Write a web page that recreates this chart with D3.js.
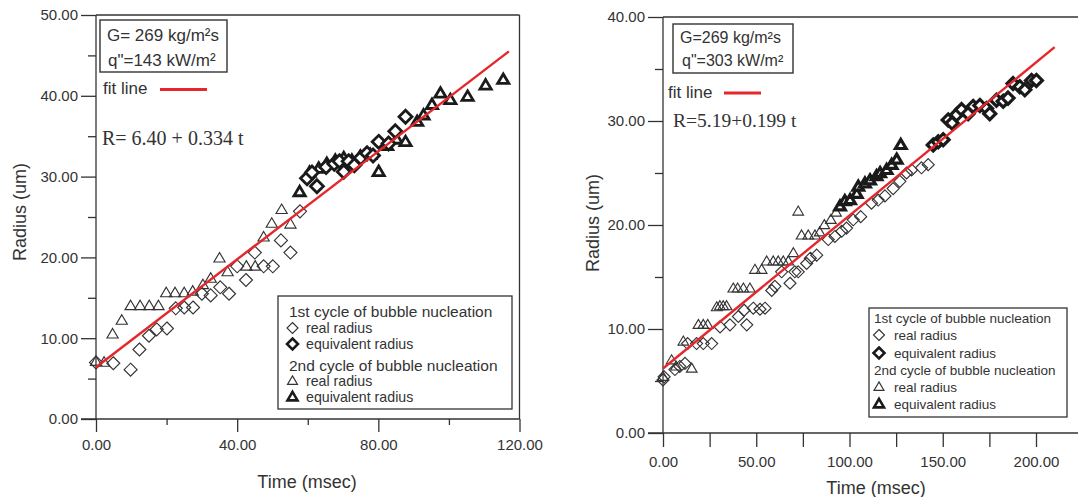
<!DOCTYPE html>
<html>
<head>
<meta charset="utf-8">
<script src="https://cdn.jsdelivr.net/npm/d3@7/dist/d3.min.js"></script>
<style>
  body { margin: 0; background: #fff; }
  svg text { font-family: "Liberation Sans", Arial, sans-serif; fill: #333; }
</style>
</head>
<body>
<svg id="chart" width="1078" height="497"></svg>
<script>
// ---- left panel: G=269 kg/m2s, q"=143 kW/m2  ([time msec, radius um]) ----
const leftReal1 = [[0,7.0],[4.9,6.9],[9.8,6.1],[12.3,8.6],[15.0,10.3],[17.2,11.1],[20.1,11.2],[22.6,13.7],
  [25.0,13.8],[27.5,13.8],[30.0,15.5],[32.5,15.3],[35.2,16.3],[37.7,15.5],[40.0,18.9],[42.5,17.2],
  [45.0,20.6],[47.5,18.9],[50.1,18.9],[52.4,22.1],[55.1,20.6],[57.8,25.7]]
const leftEq1 = [[59.8,29.8],[61.2,30.5],[62.6,28.8],[65.2,31.2],[67.5,31.6],[69.0,31.9],[70.2,30.6],
  [71.6,31.9],[73.2,31.4],[75.0,32.3],[76.8,32.9],[78.5,32.6],[80.1,34.3],[82.9,34.1],[84.8,35.6],[87.7,37.4]]
const leftReal2 = [[0,7.1],[2.3,7.0],[4.7,10.5],[7.3,12.2],[9.8,14.0],[12.5,14.0],[15.1,14.0],[17.7,14.0],
  [19.9,15.6],[22.4,15.6],[25.0,15.6],[27.4,15.8],[30.3,16.6],[32.5,17.4],[35.0,19.9],[37.3,18.2],
  [42.6,18.9],[45.1,18.9],[47.5,22.5],[49.8,24.2],[52.6,25.9],[55.1,24.1]]
const leftEq2 = [[57.7,28.1],[60.5,30.5],[63.1,31.0],[65.4,31.6],[67.8,32.0],[70.2,32.3],[72.5,32.0],
  [74.9,32.5],[77.7,32.7],[80.1,30.6],[82.5,33.8],[85.2,34.6],[87.7,34.3],[91.0,36.8],[92.8,37.6],
  [95.2,38.9],[97.6,40.3],[100.4,39.5],[105.3,39.9],[110.4,41.3],[115.4,42.0]]
const leftFitT = [0, 117]
const leftFitR = [6.40, 45.5]

// ---- right panel: G=269 kg/m2s, q"=303 kW/m2 ----
const rightReal1 = [[0,5.1],[0.6,5.4],[6.4,6.1],[9.0,6.4],[11.8,6.7],[13.2,8.6],[18.0,8.6],[21.6,8.6],
  [26.1,8.6],[30.6,10.2],[35.9,10.4],[40.4,11.2],[43.5,11.8],[44.9,10.4],[48.4,12.0],[52.0,11.9],
  [54.7,12.0],[58.3,13.7],[60.0,14.1],[63.6,15.5],[68.1,14.4],[70.7,15.5],[72.5,15.5],[77.0,16.3],
  [79.0,16.8],[82.4,17.1],[88.6,18.6],[92.2,18.9],[95.8,19.4],[98.4,19.7],[102.0,20.5],[106.0,20.8],
  [111.8,22.1],[115.4,22.4],[119.0,22.8],[123.4,23.5],[127.0,24.2],[130.6,25.0],[133.3,25.3],
  [138.6,25.5],[142.2,25.8]]
const rightEq1 = [[144.9,27.7],[147.6,28.0],[150.2,28.2],[152.9,30.1],[155.0,29.8],[157.4,30.6],
  [160.1,31.1],[163.6,30.7],[166.3,31.4],[169.9,31.5],[173.5,31.2],[175.2,30.7],[178.8,32.0],
  [182.4,31.9],[185.0,32.2],[187.7,33.6],[191.3,33.3],[194.0,33.0],[197.6,33.9],[200.2,33.9]]
const rightReal2 = [[0,5.4],[4.6,7.0],[7.0,6.4],[10.9,8.8],[15.4,6.2],[19.0,10.4],[21.6,10.4],[24.0,10.4],
  [28.8,12.1],[30.5,12.2],[32.3,12.2],[34.1,12.2],[37.7,13.9],[40.0,13.9],[43.1,13.9],[46.6,13.9],
  [49.3,15.7],[52.9,15.7],[55.6,16.5],[59.1,16.5],[61.8,16.5],[64.5,16.5],[67.2,16.5],[69.9,17.3],
  [72.5,21.3],[74.3,19.0],[77.9,19.0],[81.5,19.0],[84.0,19.3],[86.5,20.0],[90.0,20.5],[92.8,21.2]]
const rightEq2 = [[94.9,21.8],[97.5,22.3],[100.3,22.4],[103.9,23.0],[104.7,23.7],[108.3,24.0],
  [111.0,24.3],[114.5,24.7],[116.4,25.0],[119.9,25.3],[122.6,25.8],[125.3,26.3],[127.5,27.7]]
const rightFitT = [0, 210]
const rightFitR = [6.2, 37.1]

const legendLabels = ['1st cycle of bubble nucleation', 'real radius', 'equivalent radius',
  '2nd cycle of bubble nucleation', 'real radius', 'equivalent radius']

const svg = d3.select('#chart')
const RED = '#e5262b'

const diamondPath = h => `M0,${-h}L${h},0L0,${h}L${-h},0Z`
const trianglePath = (w, h) => `M0,${-h*0.6}L${w},${h*0.4}L${-w},${h*0.4}Z`

function symbol(g, kind, bold, s){
  const d = kind == 'diamond' ? diamondPath(s.dia) : trianglePath(s.triW, s.triH)
  return g.append('path').attr('d', d)
    .attr('fill', '#fff')
    .attr('fill-opacity', bold ? 1 : 0)
    .attr('stroke', bold ? '#1a1a1a' : '#333')
    .attr('stroke-width', bold ? s.boldW : 1.15)
}

function drawPanel(p){
  const x = d3.scaleLinear().domain(p.xDomain).range(p.xRange)
  const y = d3.scaleLinear().domain(p.yDomain).range(p.yRange)
  const g = svg.append('g')

  // y axis: major + minor ticks
  const yMajor = g.append('g').attr('transform', `translate(${p.xRange[0]},0)`)
    .call(d3.axisLeft(y).tickValues(p.yMajor).tickSize(15).tickPadding(3).tickFormat(d3.format('.2f')))
  const yMinor = g.append('g').attr('transform', `translate(${p.xRange[0]},0)`)
    .call(d3.axisLeft(y).tickValues(p.yMinor).tickSize(8).tickFormat(''))
  const xMajor = g.append('g').attr('transform', `translate(0,${p.yRange[0]})`)
    .call(d3.axisBottom(x).tickValues(p.xMajor).tickSize(p.xMajorLen).tickPadding(p.xPad).tickFormat(d3.format('.2f')))
  const xMinor = g.append('g').attr('transform', `translate(0,${p.yRange[0]})`)
    .call(d3.axisBottom(x).tickValues(p.xMinor).tickSize(p.xMinorLen).tickFormat(''))
  ;[yMajor, yMinor, xMajor, xMinor].forEach(a => {
    a.select('.domain').remove()
    a.selectAll('line').attr('stroke', '#333').attr('stroke-width', 1.3)
    a.selectAll('text').attr('font-size', 15).attr('fill', '#3a3a3a').attr('font-family', null)
  })

  // frame
  const fx0 = p.xRange[0], fx1 = p.frameRight, fy0 = p.yRange[1], fy1 = p.yRange[0]
  const frame = g.append('g').attr('stroke', '#333').attr('stroke-width', 1.3)
  frame.append('line').attr('x1', fx0).attr('x2', fx0).attr('y1', fy0).attr('y2', fy1)
  frame.append('line').attr('x1', fx0 - 15).attr('x2', fx1).attr('y1', fy1).attr('y2', fy1)
  frame.append('line').attr('x1', fx0).attr('x2', fx1).attr('y1', fy0).attr('y2', fy0)
  if (p.rightBorder) frame.append('line').attr('x1', fx1).attr('x2', fx1).attr('y1', fy0).attr('y2', fy1)

  // points
  const series = [
    {data: p.real1, kind: 'diamond', bold: false},
    {data: p.real2, kind: 'triangle', bold: false},
    {data: p.eq2, kind: 'triangle', bold: true},
    {data: p.eq1, kind: 'diamond', bold: true},
  ]
  series.forEach(sr => {
    const sg = g.append('g')
    sr.data.forEach(d => {
      symbol(sg, sr.kind, sr.bold, p.sym).attr('transform', `translate(${x(d[0])},${y(d[1])})`)
    })
  })

  // fit line
  const fit = p.fitT.map((t, i) => [t, p.fitR[i]])
  g.append('path').datum(fit)
    .attr('d', d3.line().x(d => x(d[0])).y(d => y(d[1])))
    .attr('stroke', RED).attr('stroke-width', 2.4).attr('fill', 'none')

  // axis titles
  g.append('text').attr('transform', `translate(${p.yTitle[0]},${p.yTitle[1]}) rotate(-90)`)
    .attr('text-anchor', 'middle').attr('dominant-baseline', 'central')
    .attr('font-size', 18).text('Radius (um)')
  g.append('text').attr('x', p.xTitle[0]).attr('y', p.xTitle[1])
    .attr('text-anchor', 'middle').attr('font-size', 18).text('Time (msec)')

  // condition box
  const b = p.box
  g.append('rect').attr('x', b.x).attr('y', b.y).attr('width', b.w).attr('height', b.h)
    .attr('fill', 'none').attr('stroke', '#333').attr('stroke-width', 1.4)
  b.lines.forEach((t, i) => {
    g.append('text').attr('x', b.tx[i]).attr('y', b.ty[i]).attr('dominant-baseline', 'central')
      .attr('font-size', b.fs).text(t)
  })
  g.append('text').attr('x', p.fitLabel.x).attr('y', p.fitLabel.y).attr('dominant-baseline', 'central')
    .attr('font-size', p.fitLabel.fs).text('fit line')
  g.append('line').attr('x1', p.fitLabel.l0).attr('x2', p.fitLabel.l1)
    .attr('y1', p.fitLabel.ly).attr('y2', p.fitLabel.ly).attr('stroke', RED).attr('stroke-width', 3)
  g.append('text').attr('x', p.eq.x).attr('y', p.eq.y)
    .attr('dominant-baseline', 'central').attr('font-size', p.eq.fs)
    .attr('style', 'font-family:"Liberation Serif","Times New Roman",serif').text(p.eq.text)

  // legend
  const L = p.legend
  g.append('rect').attr('x', L.x).attr('y', L.y).attr('width', L.w).attr('height', L.h)
    .attr('fill', '#fff').attr('stroke', '#333').attr('stroke-width', 1.3)
  const kinds = [null, ['diamond', false], ['diamond', true], null, ['triangle', false], ['triangle', true]]
  legendLabels.forEach((lab, i) => {
    const k = kinds[i]
    if (k){
      symbol(g, k[0], k[1], L.sym).attr('transform', `translate(${L.symX},${L.rows[i]})`)
      g.append('text').attr('x', L.textX).attr('y', L.rows[i]).attr('dominant-baseline', 'central')
        .attr('font-size', L.fsItem).text(lab)
    } else {
      g.append('text').attr('x', L.headX).attr('y', L.rows[i]).attr('dominant-baseline', 'central')
        .attr('font-size', L.fsHead).text(lab)
    }
  })
}

drawPanel({
  xDomain: [0, 120], xRange: [96, 519.5], yDomain: [0, 50], yRange: [419, 15],
  yMajor: [0, 10, 20, 30, 40, 50], yMinor: [5, 15, 25, 35, 45],
  xMajor: [0, 40, 80, 120], xMinor: [20, 60, 100], xMajorLen: 13, xMinorLen: 6, xPad: 7.5,
  frameRight: 519.5, rightBorder: true,
  real1: leftReal1, eq1: leftEq1, real2: leftReal2, eq2: leftEq2,
  fitT: leftFitT, fitR: leftFitR,
  sym: {dia: 6.5, triW: 5.6, triH: 9.5, boldW: 2.8},
  yTitle: [20, 212], xTitle: [307, 488],
  box: {x: 100, y: 20, w: 127, h: 52, fs: 17, lines: ['G= 269 kg/m²s', 'q"=143 kW/m²'], tx: [107, 108], ty: [35, 60]},
  fitLabel: {x: 103, y: 88, fs: 17, l0: 160, l1: 207, ly: 89.5},
  eq: {x: 102, y: 138, fs: 20, text: 'R= 6.40 + 0.334 t'},
  legend: {x: 278, y: 296, w: 234, h: 113, headX: 289, symX: 292.5, textX: 306, fsHead: 15.5, fsItem: 14.2,
    rows: [311, 328, 344, 365, 381, 397], sym: {dia: 5.5, triW: 5, triH: 8.5, boldW: 2.6}},
})

drawPanel({
  xDomain: [0, 200], xRange: [663, 1036], yDomain: [0, 40], yRange: [433, 17],
  yMajor: [0, 10, 20, 30, 40], yMinor: [5, 15, 25, 35],
  xMajor: [0, 50, 100, 150, 200], xMinor: [25, 75, 125, 175, 225], xMajorLen: 14, xMinorLen: 14, xPad: 9,
  frameRight: 1078, rightBorder: false,
  real1: rightReal1, eq1: rightEq1, real2: rightReal2, eq2: rightEq2,
  fitT: rightFitT, fitR: rightFitR,
  sym: {dia: 6, triW: 5.3, triH: 9, boldW: 3.2},
  yTitle: [593, 223], xTitle: [876, 494],
  box: {x: 673, y: 24, w: 120, h: 49, fs: 16, lines: ['G=269 kg/m²s', 'q"=303 kW/m²'], tx: [680, 682], ty: [37, 60]},
  fitLabel: {x: 668, y: 92, fs: 17, l0: 724, l1: 761, ly: 93},
  eq: {x: 673, y: 120, fs: 19.5, text: 'R=5.19+0.199 t'},
  legend: {x: 869, y: 308, w: 198, h: 109, headX: 874, symX: 879, textX: 894, fsHead: 13.5, fsItem: 13.5,
    rows: [318, 335, 353, 370, 387, 404], sym: {dia: 5.5, triW: 5, triH: 8.5, boldW: 2.6}},
})
</script>
</body>
</html>
